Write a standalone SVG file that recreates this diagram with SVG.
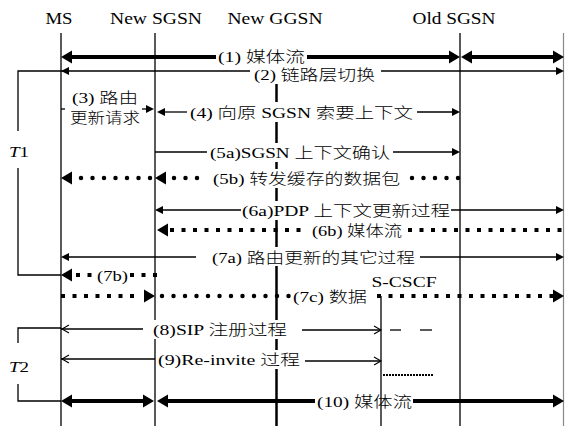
<svg xmlns="http://www.w3.org/2000/svg" xmlns:xlink="http://www.w3.org/1999/xlink" width="565" height="426" viewBox="0 0 565 426">
<style>
text{font-family:"Liberation Serif","Noto Sans CJK SC",serif;font-size:15px;font-weight:300;fill:#000}
.hd{font-size:16px;text-anchor:middle}
.lb{text-anchor:middle}
.life{stroke:#000;stroke-width:1.3;fill:none}
.thin{stroke:#000;stroke-width:1.3;fill:none}
.thick{stroke:#000;stroke-width:4;fill:none}
.dot{stroke:#000;stroke-width:4.5;stroke-dasharray:0 11.5;stroke-linecap:round;fill:none}
.sq{stroke:#000;stroke-width:4;stroke-dasharray:4 7.5;fill:none}
.bg{fill:#fff}
.fine{stroke:#000;stroke-width:2;stroke-dasharray:2 1;fill:none}
</style>
<defs>
<path id="hl" d="M0 0L11 -6.5L11 6.5Z"/>
<path id="hr" d="M0 0L-11 -6.5L-11 6.5Z"/>
<path id="sl" d="M0 0L8 -4L8 4Z"/>
<path id="sr" d="M0 0L-8 -4L-8 4Z"/>
<path id="ol" d="M7 -4L0 0L7 4" fill="none" stroke="#000" stroke-width="1.1"/>
<path id="or" d="M-7 -4L0 0L-7 4" fill="none" stroke="#000" stroke-width="1.1"/>
</defs>

<g id="MS"><text class="hd" x="59" y="24" textLength="27" lengthAdjust="spacingAndGlyphs">MS</text><line class="life" x1="61" y1="33" x2="61" y2="426"/></g>
<g id="NewSGSN"><text class="hd" x="156" y="24" textLength="92" lengthAdjust="spacingAndGlyphs">New SGSN</text><line class="life" x1="155" y1="33" x2="155" y2="426"/></g>
<g id="NewGGSN"><text class="hd" x="275" y="24" textLength="95" lengthAdjust="spacingAndGlyphs">New GGSN</text><line x1="276.5" y1="82" x2="276.5" y2="426" stroke="#000" stroke-width="2.5"/></g>
<g id="OldSGSN"><text class="hd" x="454" y="24" textLength="83" lengthAdjust="spacingAndGlyphs">Old SGSN</text><line class="life" x1="460" y1="33" x2="460" y2="426"/></g>
<g id="Right"><line x1="563.5" y1="33" x2="563.5" y2="426" stroke="#888" stroke-width="1.2"/></g>
<g id="SCSCF"><text x="404" y="287" class="lb" textLength="65" lengthAdjust="spacingAndGlyphs">S-CSCF</text><line class="life" x1="381" y1="296" x2="381" y2="426"/></g>

<g id="label-masks">
<rect class="bg" x="250" y="64" width="130" height="20"/>
<rect class="bg" x="188" y="102" width="228" height="20"/>
<rect class="bg" x="208" y="143" width="185" height="19"/>
<rect class="bg" x="211" y="169" width="192" height="19"/>
<rect class="bg" x="240" y="201" width="212" height="19"/>
<rect class="bg" x="210" y="247" width="208" height="19"/>
<rect class="bg" x="151" y="320" width="138" height="19"/>
<rect class="bg" x="156" y="350" width="146" height="19"/>
</g>

<g id="brackets">
<path class="thin" d="M61 71H18V131M18 168V275H61"/>
<text x="9" y="157" textLength="20" lengthAdjust="spacingAndGlyphs"><tspan font-style="italic">T</tspan>1</text>
<path class="thin" d="M61 328H18V343M18 384V401H61"/>
<text x="9" y="372" textLength="20" lengthAdjust="spacingAndGlyphs"><tspan font-style="italic">T</tspan>2</text>
</g>

<g id="connectors">
<!-- (1) -->
<line class="thick" x1="70" y1="57" x2="216" y2="57"/>
<line class="thick" x1="307" y1="57" x2="451" y2="57"/>
<use xlink:href="#hl" x="61" y="57"/><use xlink:href="#hr" x="460" y="57"/>
<line class="thick" x1="470" y1="57" x2="554" y2="57"/>
<use xlink:href="#hl" x="461" y="57"/><use xlink:href="#hr" x="564" y="57"/>
<!-- (2) -->
<line class="thin" x1="61" y1="71" x2="250" y2="71"/>
<use xlink:href="#sl" x="61" y="71"/>
<line class="thin" x1="381" y1="71" x2="556" y2="71"/>
<use xlink:href="#sr" x="564" y="71"/>
<!-- (3) -->
<line class="thin" x1="61" y1="109" x2="65" y2="109"/>
<line class="thin" x1="142" y1="109" x2="148" y2="109"/>
<use xlink:href="#sr" x="154" y="109"/>
<!-- (4) -->
<use xlink:href="#sl" x="157" y="112"/>
<line class="thin" x1="164" y1="112" x2="187" y2="112"/>
<line class="thin" x1="417" y1="112" x2="453" y2="112"/>
<use xlink:href="#sr" x="460" y="112"/>
<!-- (5a) -->
<line class="thin" x1="155" y1="152" x2="207" y2="152"/>
<line class="thin" x1="393" y1="152" x2="453" y2="152"/>
<use xlink:href="#sr" x="460" y="152"/>
<!-- (5b) -->
<line class="dot" x1="458" y1="178" x2="405" y2="178"/>
<line class="dot" x1="197" y1="178" x2="168" y2="178"/>
<use xlink:href="#hl" x="155" y="178"/>
<line class="dot" x1="150" y1="178" x2="78" y2="178"/>
<use xlink:href="#hl" x="61" y="178"/>
<!-- (6a) -->
<use xlink:href="#sl" x="155" y="210"/>
<line class="thin" x1="162" y1="210" x2="241" y2="210"/>
<line class="thin" x1="451" y1="210" x2="556" y2="210"/>
<use xlink:href="#sr" x="564" y="210"/>
<!-- (6b) -->
<use xlink:href="#hl" x="157" y="230"/>
<line class="sq" x1="170" y1="230" x2="306" y2="230"/>
<line class="sq" x1="408" y1="230" x2="565" y2="230"/>
<!-- (7a) -->
<use xlink:href="#sl" x="61" y="257"/>
<line class="thin" x1="68" y1="257" x2="196" y2="257"/>
<line class="thin" x1="420" y1="257" x2="556" y2="257"/>
<use xlink:href="#sr" x="564" y="257"/>
<!-- (7b) -->
<use xlink:href="#hl" x="61" y="275"/>
<line class="sq" x1="76" y1="275" x2="94" y2="275"/>
<line class="sq" x1="130" y1="275" x2="157" y2="275"/>
<!-- (7c) -->
<line class="sq" x1="61" y1="296" x2="141" y2="296"/>
<use xlink:href="#hr" x="155" y="296"/>
<line class="dot" x1="162" y1="296" x2="290" y2="296"/>
<line class="sq" x1="377" y1="296" x2="553" y2="296"/>
<use xlink:href="#hr" x="564" y="296"/>
<!-- (8) -->
<line class="thin" x1="61" y1="329" x2="143" y2="329"/>
<use xlink:href="#ol" x="62" y="329"/>
<line class="thin" x1="302" y1="330" x2="381" y2="330"/>
<use xlink:href="#or" x="381" y="330"/>
<line class="thin" x1="390" y1="330" x2="401" y2="330"/>
<line class="thin" x1="420" y1="330" x2="432" y2="330"/>
<!-- (9) -->
<line class="thin" x1="61" y1="359" x2="155" y2="359"/>
<use xlink:href="#ol" x="62" y="359"/>
<line class="thin" x1="305" y1="361" x2="381" y2="361"/>
<use xlink:href="#or" x="381" y="361"/>
<line class="fine" x1="383" y1="375" x2="433" y2="375"/>
<!-- (10) -->
<use xlink:href="#hl" x="61" y="401"/>
<line class="thick" x1="70" y1="401" x2="145" y2="401"/>
<use xlink:href="#hr" x="154" y="401"/>
<use xlink:href="#hl" x="157" y="401"/>
<line class="thick" x1="166" y1="401" x2="315" y2="401"/>
<line class="thick" x1="413" y1="401" x2="554" y2="401"/>
<use xlink:href="#hr" x="564" y="401"/>
</g>

<g id="labels">
<text class="lb" x="261.5" y="62" textLength="87" lengthAdjust="spacingAndGlyphs">(1) 媒体流</text>
<text class="lb" x="314.5" y="80" textLength="121" lengthAdjust="spacingAndGlyphs">(2) 链路层切换</text>
<text class="lb" x="105" y="103" textLength="66" lengthAdjust="spacingAndGlyphs">(3) 路由</text>
<text class="lb" x="105" y="123" textLength="70" lengthAdjust="spacingAndGlyphs">更新请求</text>
<text class="lb" x="301.5" y="118" textLength="223" lengthAdjust="spacingAndGlyphs">(4) 向原 SGSN 索要上下文</text>
<text class="lb" x="300" y="158" textLength="180" lengthAdjust="spacingAndGlyphs">(5a)SGSN 上下文确认</text>
<text class="lb" x="306.5" y="184" textLength="187" lengthAdjust="spacingAndGlyphs">(5b) 转发缓存的数据包</text>
<text class="lb" x="346" y="216" textLength="208" lengthAdjust="spacingAndGlyphs">(6a)PDP 上下文更新过程</text>
<text class="lb" x="357" y="236" textLength="90" lengthAdjust="spacingAndGlyphs">(6b) 媒体流</text>
<text class="lb" x="313.5" y="263" textLength="203" lengthAdjust="spacingAndGlyphs">(7a) 路由更新的其它过程</text>
<text class="lb" x="112.5" y="281" textLength="31" lengthAdjust="spacingAndGlyphs">(7b)</text>
<text class="lb" x="330" y="302" textLength="74" lengthAdjust="spacingAndGlyphs">(7c) 数据</text>
<text class="lb" x="220" y="335" textLength="134" lengthAdjust="spacingAndGlyphs">(8)SIP 注册过程</text>
<text class="lb" x="229" y="365" textLength="142" lengthAdjust="spacingAndGlyphs">(9)Re-invite 过程</text>
<text class="lb" x="364.5" y="407" textLength="95" lengthAdjust="spacingAndGlyphs">(10) 媒体流</text>
</g>
</svg>
